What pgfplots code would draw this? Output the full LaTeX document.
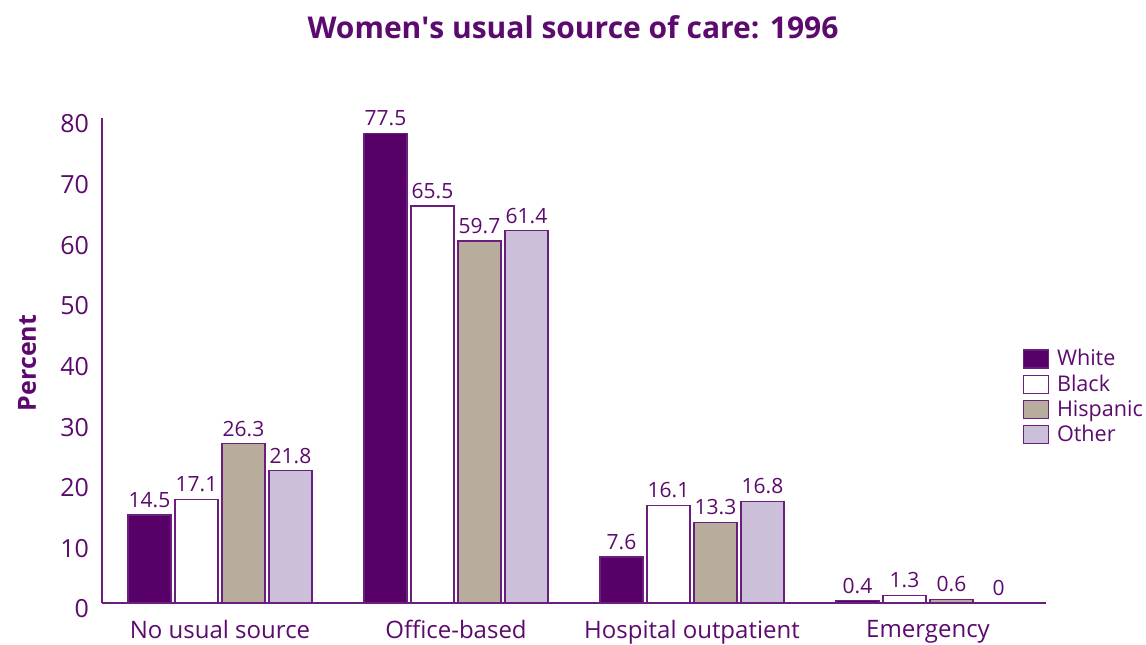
\documentclass[border=0pt]{standalone}
\usepackage{fontspec}
\setmainfont{Open Sans}
\usepackage{pgfplots}
\pgfplotsset{compat=1.18}
\definecolor{txtpurple}{HTML}{5C0A6E}
\definecolor{cwhite}{HTML}{560068}
\definecolor{chisp}{HTML}{B8AD9C}
\definecolor{cother}{HTML}{CBBFDA}
\definecolor{edge}{HTML}{6A1F7E}

\begin{document}
\begin{tikzpicture}
\path[use as bounding box] (0,0) rectangle (573pt,322pt);
\node[font=\fontsize{15}{18}\selectfont\bfseries, text=txtpurple] at (286.5pt,308.5pt) {Women\textquotesingle s usual source of care: 1996};
\node[font=\fontsize{12.5}{15}\selectfont\bfseries, text=txtpurple, rotate=90] at (13.5pt,140.5pt) {Percent};
\begin{axis}[
  at={(51pt,20.5pt)}, anchor=south west,
  scale only axis, width=472pt, height=242.5pt,
  ybar=2pt, bar width=21.5pt,
  xmin=-0.5, xmax=3.5, ymin=0, ymax=80,
  axis x line=bottom, axis y line=left,
  axis line style={edge, line width=0.6pt, -},
  xtick=data,
  xticklabels={No usual source, Office-based, Hospital outpatient, Emergency},
  ytick={0,10,...,80},
  major tick length=0pt,
  tick label style={text=txtpurple, font=\fontsize{12.5}{15}\selectfont},
  xticklabel style={font=\fontsize{12}{14}\selectfont, yshift=-5pt},
  /pgf/number format/assume math mode=true,
  yticklabel style={xshift=-3pt, yshift=-3pt},
  every axis plot/.append style={draw=edge, line width=0.6pt},
  nodes near coords,
  every node near coord/.append style={text=txtpurple, font=\fontsize{10.5}{12}\selectfont, /pgf/number format/assume math mode=true},
  legend style={at={(0.975,0.532)}, anchor=north west, draw=none, fill=none,
    font=\fontsize{10.8}{12}\selectfont, text=txtpurple,
    row sep=-1pt, inner sep=0pt,
    nodes={inner xsep=4pt}},
  legend cell align=left,
  legend image code/.code={\draw[#1, draw=edge] (0pt,-4.5pt) rectangle (12.5pt,4.5pt);},
]
\addplot[fill=cwhite] coordinates {(0,14.5) (1,77.5) (2,7.6) (3,0.4)};
\addplot[fill=white] coordinates {(0,17.1) (1,65.5) (2,16.1) (3,1.3)};
\addplot[fill=chisp] coordinates {(0,26.3) (1,59.7) (2,13.3) (3,0.6)};
\addplot[fill=cother] coordinates {(0,21.8) (1,61.4) (2,16.8) (3,0)};
\legend{White, Black, Hispanic, Other}
\end{axis}
\end{tikzpicture}
\end{document}
